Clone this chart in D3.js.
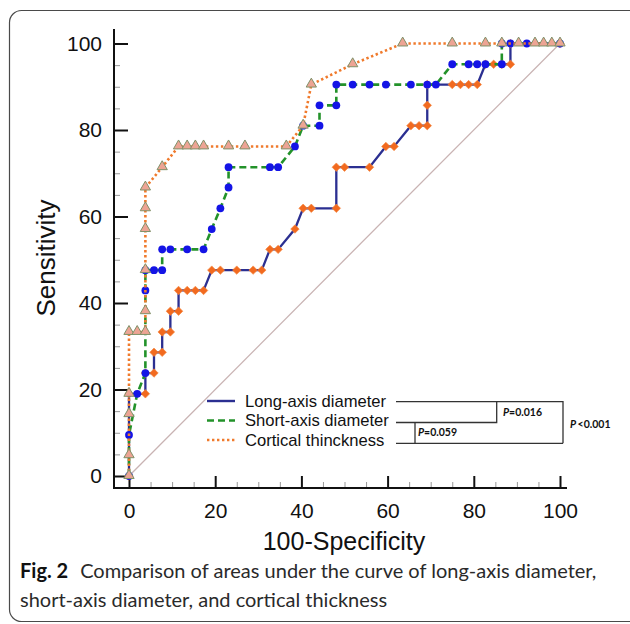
<!DOCTYPE html>
<html>
<head>
<meta charset="utf-8">
<script src="https://cdn.jsdelivr.net/npm/d3@7"></script>
<style>
  body { margin: 0; background: #fff; }
  svg { display: block; }
</style>
</head>
<body>
<script>
// ROC points: [100-specificity, sensitivity]
const longAxis = [[0,0],[0,19.0],[3.8,19.0],[3.8,23.8],[5.8,23.8],[5.8,28.6],[7.7,28.6],[7.7,33.3],[9.6,33.3],[9.6,38.1],[11.5,38.1],[11.5,42.9],[13.5,42.9],[15.4,42.9],[17.3,42.9],[19.2,47.6],[21.2,47.6],[25.0,47.6],[28.8,47.6],[30.8,47.6],[32.7,52.4],[34.6,52.4],[38.5,57.1],[40.4,61.9],[42.3,61.9],[48.1,61.9],[48.1,71.4],[50.0,71.4],[55.8,71.4],[59.6,76.2],[61.5,76.2],[65.4,81.0],[67.3,81.0],[69.2,81.0],[69.2,85.7],[69.2,90.5],[75.0,90.5],[76.9,90.5],[78.8,90.5],[80.8,90.5],[82.7,95.2],[84.6,95.2],[86.5,95.2],[88.5,95.2],[88.5,100],[100,100]];
const shortAxis = [[0,0],[0,9.5],[1.9,19.0],[3.8,23.8],[3.8,42.9],[3.8,47.6],[5.8,47.6],[7.7,47.6],[7.7,52.4],[9.6,52.4],[13.5,52.4],[17.3,52.4],[19.2,57.1],[21.2,61.9],[23.1,66.7],[23.1,71.4],[32.7,71.4],[34.6,71.4],[38.5,76.2],[40.4,81.0],[44.2,81.0],[44.2,85.7],[48.1,85.7],[48.1,90.5],[51.9,90.5],[55.8,90.5],[59.6,90.5],[65.4,90.5],[69.2,90.5],[71.2,90.5],[75.0,95.2],[78.8,95.2],[80.8,95.2],[82.7,95.2],[86.5,95.2],[86.5,100],[88.5,100],[92.3,100],[100,100]];
const cortical = [[0,0],[0,4.8],[0,14.3],[0,19.0],[0,33.3],[1.9,33.3],[3.8,33.3],[3.8,38.1],[3.8,47.6],[3.8,57.1],[3.8,61.9],[3.8,66.7],[7.7,71.4],[11.5,76.2],[13.5,76.2],[15.4,76.2],[17.3,76.2],[23.1,76.2],[26.9,76.2],[36.5,76.2],[40.4,81.0],[42.3,90.5],[51.9,95.2],[63.5,100],[75.0,100],[82.7,100],[86.5,100],[90.4,100],[94.2,100],[96.2,100],[98.1,100],[100,100]];

const legendLabels = ["Long-axis diameter", "Short-axis diameter", "Cortical thinckness"];
const pLabels = ["=0.016", "=0.059", "<0.001"];
const majorTicks = [0, 20, 40, 60, 80, 100];
const minorTicks = d3.range(0, 101, 5).filter(v => v % 20 !== 0);
const captionLines = ["Comparison of areas under the curve of long-axis diameter,", "short-axis diameter, and cortical thickness"];

const width = 630, height = 624;

const svg = d3.select("body").append("svg")
  .attr("width", width)
  .attr("height", height)
  .attr("font-family", "Liberation Sans, Arial, sans-serif");

// outer frame
svg.append("rect")
  .attr("x", 9.5).attr("y", 10.5)
  .attr("width", 700).attr("height", 611)
  .attr("rx", 12)
  .attr("fill", "none")
  .attr("stroke", "#4a4a4a")
  .attr("stroke-width", 1.2);

const x = d3.scaleLinear().domain([0, 100]).range([129, 560]);
const y = d3.scaleLinear().domain([0, 100]).range([476, 43.5]);

// axes
const yAxisG = svg.append("g").attr("transform", "translate(114,0)");
yAxisG.call(d3.axisLeft(y).tickValues(minorTicks).tickSize(-6).tickSizeOuter(0).tickFormat(""))
  .call(g => g.select(".domain").remove())
  .call(g => g.selectAll(".tick line").attr("stroke", "#999").attr("stroke-width", 1));
yAxisG.append("g")
  .call(d3.axisLeft(y).tickValues(majorTicks).tickSize(-14).tickSizeOuter(0).tickPadding(12))
  .call(g => g.select(".domain").remove())
  .call(g => g.selectAll(".tick line").attr("stroke", "#111").attr("stroke-width", 2))
  .call(g => g.selectAll(".tick text").attr("font-size", 21).attr("fill", "#111")
    .attr("font-family", "Liberation Sans, Arial, sans-serif"));
yAxisG.append("line")
  .attr("x1", 0).attr("x2", 0).attr("y1", 29).attr("y2", 489)
  .attr("stroke", "#111").attr("stroke-width", 2);

const xAxisG = svg.append("g").attr("transform", "translate(0,488)");
xAxisG.call(d3.axisBottom(x).tickValues(minorTicks).tickSize(-6).tickSizeOuter(0).tickFormat(""))
  .call(g => g.select(".domain").remove())
  .call(g => g.selectAll(".tick line").attr("stroke", "#999").attr("stroke-width", 1));
xAxisG.append("g")
  .call(d3.axisBottom(x).tickValues(majorTicks).tickSize(-12).tickSizeOuter(0).tickPadding(15))
  .call(g => g.select(".domain").remove())
  .call(g => g.selectAll(".tick line").attr("stroke", "#111").attr("stroke-width", 2))
  .call(g => g.selectAll(".tick text").attr("font-size", 21).attr("fill", "#111")
    .attr("font-family", "Liberation Sans, Arial, sans-serif"));
xAxisG.append("line")
  .attr("x1", 113).attr("x2", 567).attr("y1", 0).attr("y2", 0)
  .attr("stroke", "#111").attr("stroke-width", 2);

// axis titles
svg.append("text")
  .attr("x", 344).attr("y", 550)
  .attr("text-anchor", "middle")
  .attr("font-size", 25)
  .attr("fill", "#111")
  .text("100-Specificity");

svg.append("text")
  .attr("transform", "translate(55,258) rotate(-90)")
  .attr("text-anchor", "middle")
  .attr("font-size", 26)
  .attr("fill", "#111")
  .text("Sensitivity");

// reference diagonal
svg.append("line")
  .attr("x1", x(0)).attr("y1", y(0))
  .attr("x2", x(100)).attr("y2", y(100))
  .attr("stroke", "#c9b3b3")
  .attr("stroke-width", 1.3);

const line = d3.line().x(d => x(d[0])).y(d => y(d[1]));

// long-axis diameter
svg.append("path")
  .datum(longAxis)
  .attr("d", line)
  .attr("fill", "none")
  .attr("stroke", "#2b2f91")
  .attr("stroke-width", 2.3);

svg.append("g").selectAll("path")
  .data(longAxis)
  .join("path")
  .attr("d", d3.symbol(d3.symbolSquare, 36))
  .attr("transform", d => `translate(${x(d[0])},${y(d[1])}) rotate(45)`)
  .attr("fill", "#f26a1f")
  .attr("stroke", "#f4873f")
  .attr("stroke-width", 0.6);

// short-axis diameter
svg.append("path")
  .datum(shortAxis)
  .attr("d", line)
  .attr("fill", "none")
  .attr("stroke", "#23922a")
  .attr("stroke-width", 2.6)
  .attr("stroke-dasharray", "7,4");

svg.append("g").selectAll("circle")
  .data(shortAxis)
  .join("circle")
  .attr("cx", d => x(d[0]))
  .attr("cy", d => y(d[1]))
  .attr("r", 3.9)
  .attr("fill", "#1414e6");

// cortical thickness
svg.append("path")
  .datum(cortical)
  .attr("d", line)
  .attr("fill", "none")
  .attr("stroke", "#f07a2c")
  .attr("stroke-width", 2.6)
  .attr("stroke-dasharray", "2.4,2.6");

svg.append("g").selectAll("path")
  .data(cortical)
  .join("path")
  .attr("d", d3.symbol(d3.symbolTriangle, 46))
  .attr("transform", d => `translate(${x(d[0])},${y(d[1]) - 0.5})`)
  .attr("fill", "#eda494")
  .attr("stroke", "#7f9169")
  .attr("stroke-width", 1);

// legend
const legendStyles = [
  { color: "#2b2f91", dash: null },
  { color: "#23922a", dash: "7,4" },
  { color: "#f07a2c", dash: "2.4,2.6" }
];
const legend = svg.append("g");
legendLabels.forEach((label, i) => {
  const ly = 401 + i * 19.5;
  legend.append("line")
    .attr("x1", 207).attr("x2", 235)
    .attr("y1", ly).attr("y2", ly)
    .attr("stroke", legendStyles[i].color)
    .attr("stroke-width", 2.4)
    .attr("stroke-dasharray", legendStyles[i].dash);
  legend.append("text")
    .attr("x", 245).attr("y", ly)
    .attr("dy", "0.35em")
    .attr("font-size", 16.6)
    .attr("fill", "#111")
    .text(label);
});

// comparison brackets
const br = svg.append("g")
  .attr("fill", "none")
  .attr("stroke", "#333")
  .attr("stroke-width", 1.3);
br.append("path").attr("d", "M396,401.7H563V443.3");
br.append("path").attr("d", "M396,422.5H496.7V401.7");
br.append("path").attr("d", "M396,443.3H563");
br.append("path").attr("d", "M415,422.5V443.3");

const pPos = [[503, 412.5], [418, 432.5], [570, 424.5]];
pLabels.forEach((p, i) => {
  const t = svg.append("text")
    .attr("x", pPos[i][0]).attr("y", pPos[i][1])
    .attr("dy", "0.35em")
    .attr("font-family", "Lato, sans-serif")
    .attr("font-weight", "bold")
    .attr("font-size", 10.5)
    .attr("fill", "#111");
  t.append("tspan").attr("font-style", "italic").text("P");
  t.append("tspan").attr("dx", p.startsWith("<") ? 1.5 : 0).text(p);
});

// caption
const cap = svg.append("g").attr("font-family", "Lato, sans-serif").attr("font-size", 20).attr("fill", "#2a2a2a");
const c1 = cap.append("text").attr("x", 20).attr("y", 578);
c1.append("tspan").attr("font-weight", "bold").attr("fill", "#111").text("Fig. 2");
c1.append("tspan").attr("dx", 12).text(captionLines[0]);
cap.append("text").attr("x", 20).attr("y", 607).text(captionLines[1]);
</script>
</body>
</html>
